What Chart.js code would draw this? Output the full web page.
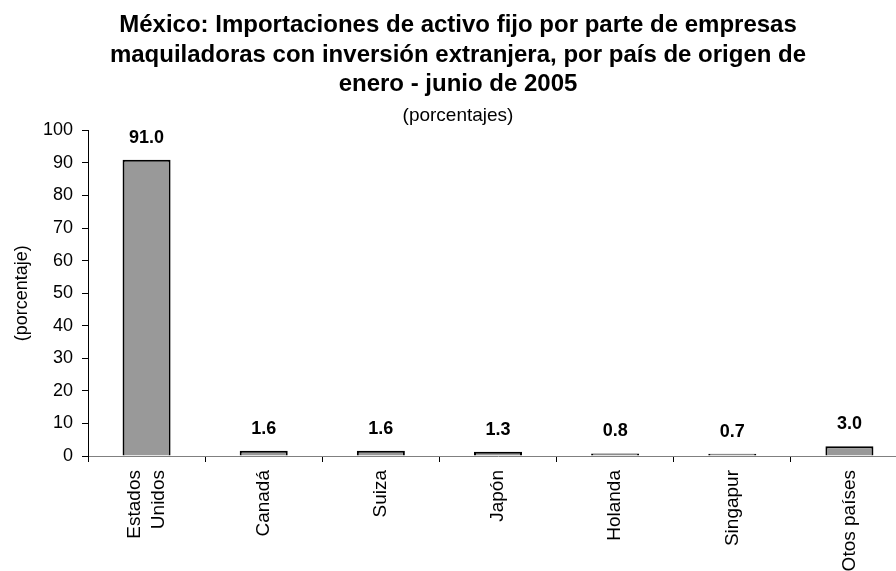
<!DOCTYPE html>
<html>
<head>
<meta charset="utf-8">
<script src="https://cdn.jsdelivr.net/npm/chart.js@4/dist/chart.umd.min.js"></script>
<style>
  html, body { margin: 0; padding: 0; background: #fff; overflow: hidden; }
  /* el grafico original es algo mas ancho que la imagen y queda recortado a la derecha */
  #wrap { width: 910px; height: 571px; position: relative; }
</style>
</head>
<body>
<div id="wrap"><canvas id="grafico"></canvas></div>
<script>
// Datos
const paises = [['Estados', 'Unidos'], 'Canadá', 'Suiza', 'Japón', 'Holanda', 'Singapur', 'Otos países'];
const porcentajes = [91.0, 1.6, 1.6, 1.3, 0.8, 0.7, 3.0];
const titulo = [
    'México: Importaciones de activo fijo por parte de empresas',
    'maquiladoras con inversión extranjera, por país de origen de',
    'enero - junio de 2005'
];
const subtitulo = '(porcentajes)';
const tituloEjeY = '(porcentaje)';

const FUENTE = '"Liberation Sans", Arial, Helvetica, sans-serif';

// etiquetas de valor encima de cada barra
const etiquetasValor = {
    id: 'etiquetasValor',
    afterDatasetsDraw(chart) {
        const ctx = chart.ctx;
        const meta = chart.getDatasetMeta(0);
        ctx.save();
        ctx.font = 'bold 18px ' + FUENTE;
        ctx.fillStyle = '#000';
        ctx.textAlign = 'center';
        ctx.textBaseline = 'middle';
        meta.data.forEach((barra, i) => {
            ctx.fillText(porcentajes[i].toFixed(1), barra.x, barra.y - 22);
        });
        ctx.restore();
    }
};

// centrar las etiquetas de varias lineas sobre su barra (Chart.js las empieza en el tick)
const centrarMultilinea = {
    id: 'centrarMultilinea',
    beforeDraw(chart) {
        const escala = chart.scales.x;
        escala.getLabelItems().forEach(item => {
            if (Array.isArray(item.label) && !item._centrado) {
                const alto = item.font.lineHeight;
                item.options.translation[0] -= alto * (item.label.length - 1) / 2;
                item._centrado = true;
            }
        });
    }
};

new Chart(document.getElementById('grafico').getContext('2d'), {
    type: 'bar',
    data: {
        labels: paises,
        datasets: [{
            data: porcentajes,
            backgroundColor: '#999999',
            borderColor: '#000000',
            borderWidth: 2,
            barPercentage: 0.41,
            categoryPercentage: 1.0
        }]
    },
    options: {
        responsive: true,
        maintainAspectRatio: false,
        animation: false,
        layout: { padding: { left: 8, right: 2, top: 0, bottom: 0 } },
        plugins: {
            legend: { display: false },
            tooltip: { enabled: false },
            title: {
                display: true,
                text: titulo,
                color: '#000',
                font: { family: FUENTE, size: 24, weight: 'bold', lineHeight: 1.23 },
                padding: { top: 11, bottom: 0 }
            },
            subtitle: {
                display: true,
                text: subtitulo,
                color: '#000',
                font: { family: FUENTE, size: 19 },
                padding: { top: 5, bottom: 3 }
            }
        },
        scales: {
            x: {
                grid: { display: true, drawOnChartArea: false, drawTicks: true, tickLength: 6, color: '#000', offset: true },
                border: { display: true, color: '#808080', width: 1 },
                ticks: {
                    autoSkip: false,
                    maxRotation: 90,
                    minRotation: 90,
                    color: '#000',
                    padding: 8,
                    font: { family: FUENTE, size: 19, lineHeight: 1.25 }
                },
                afterFit: function(scale) { scale.height = 115; }
            },
            y: {
                min: 0,
                max: 100,
                grid: { display: true, drawOnChartArea: false, drawTicks: true, tickLength: 6, color: '#000' },
                border: { display: true, color: '#000', width: 1 },
                ticks: {
                    stepSize: 10,
                    color: '#000',
                    padding: 9,
                    font: { family: FUENTE, size: 18 }
                },
                title: {
                    display: true,
                    text: tituloEjeY,
                    color: '#000',
                    font: { family: FUENTE, size: 18 },
                    padding: { top: 3, bottom: 0 }
                },
                afterFit: function(scale) { scale.width = 80; }
            }
        }
    },
    plugins: [etiquetasValor, centrarMultilinea]
});
</script>
</body>
</html>
